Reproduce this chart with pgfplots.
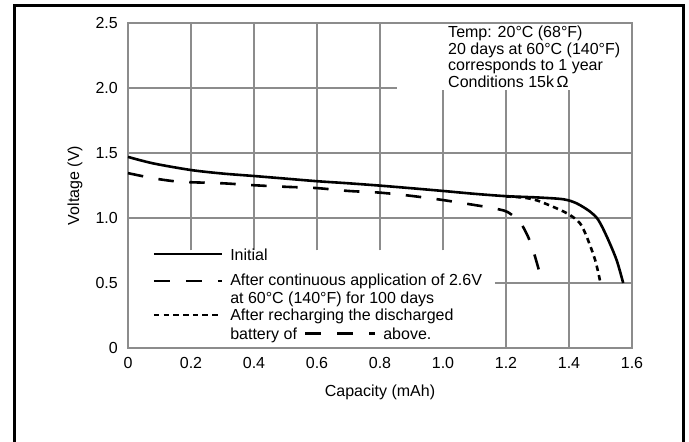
\documentclass[border=0pt]{standalone}
\usepackage{fontspec}
\setmainfont{Liberation Sans}
\usepackage{pgfplots}
\pgfplotsset{compat=1.18}
\definecolor{gridc}{RGB}{140,140,140}
\begin{document}
\fontsize{16}{19}\selectfont
\begin{tikzpicture}[x=1pt,y=1pt]
\useasboundingbox (0,0) rectangle (689,442);
\draw[line width=3pt] (14,-10) -- (14,436) -- (683,436) -- (683,-10);
\begin{axis}[
  at={(128pt,94pt)}, anchor=south west,
  scale only axis, width=504pt, height=325pt,
  xmin=0, xmax=1.6, ymin=0, ymax=2.5,
  xtick={0,0.2,0.4,0.6,0.8,1.0,1.2,1.4,1.6},
  xticklabels={0,0.2,0.4,0.6,0.8,1.0,1.2,1.4,1.6},
  ytick={0,0.5,1,1.5,2,2.5},
  yticklabels={0,0.5,1.0,1.5,2.0,2.5},
  /pgf/number format/assume math mode=true,
  major tick length=0pt, tick style={draw=none},
  axis line style={gridc, line width=2.5pt},
  yticklabel style={anchor=east, inner sep=0pt, xshift=-10pt},
  xticklabel style={anchor=north, inner sep=0pt, yshift=-9pt},
  xlabel={Capacity (mAh)}, ylabel={Voltage (V)},
  xlabel style={at={(axis description cs:0.5,-0.1354)}, anchor=center},
  ylabel style={at={(axis description cs:-0.1052,0.5)}, anchor=center},
  clip=false,
]
% partial grid
\addplot[gridc, line width=2.5pt, forget plot] coordinates {(0.2,0.75) (0.2,2.5)};
\addplot[gridc, line width=2.5pt, forget plot] coordinates {(0.4,0.75) (0.4,2.5)};
\addplot[gridc, line width=2.5pt, forget plot] coordinates {(0.6,0.75) (0.6,2.5)};
\addplot[gridc, line width=2.5pt, forget plot] coordinates {(0.8,0.75) (0.8,2.5)};
\addplot[gridc, line width=2.5pt, forget plot] coordinates {(1.0,0.75) (1.0,1.985)};
\addplot[gridc, line width=2.5pt, forget plot] coordinates {(1.2,0) (1.2,1.985)};
\addplot[gridc, line width=2.5pt, forget plot] coordinates {(1.4,0) (1.4,1.985)};
\addplot[gridc, line width=2.5pt, forget plot] coordinates {(0,2.0) (0.854,2.0)};
\addplot[gridc, line width=2.5pt, forget plot] coordinates {(0,1.5) (1.6,1.5)};
\addplot[gridc, line width=2.5pt, forget plot] coordinates {(0,1.0) (1.6,1.0)};
\addplot[gridc, line width=2.5pt, forget plot] coordinates {(1.165,0.5) (1.6,0.5)};
% Initial
\addplot[black, line width=2.6pt, smooth, tension=0.5] coordinates {
(0,1.47) (0.08,1.42) (0.2,1.369) (0.3,1.342) (0.4,1.323) (0.5,1.303) (0.6,1.283)
(0.7,1.267) (0.8,1.249) (0.9,1.229) (1.0,1.208) (1.1,1.186) (1.2,1.168) (1.3,1.158)
(1.382,1.144) (1.424,1.113) (1.467,1.049) (1.493,0.985) (1.52,0.857) (1.551,0.677) (1.572,0.5)};
% After continuous application
\addplot[black, line width=2.6pt, dash pattern=on 15.5pt off 15.5pt, smooth, tension=0.5] coordinates {
(0,1.345) (0.05,1.32) (0.1,1.298) (0.15,1.282) (0.2,1.275) (0.3,1.267) (0.4,1.252)
(0.5,1.24) (0.6,1.23) (0.7,1.208) (0.8,1.195) (0.9,1.17) (1.0,1.138) (1.1,1.10)
(1.15,1.08) (1.18,1.065) (1.206,1.045) (1.244,0.97) (1.27,0.856) (1.286,0.754) (1.316,0.5)};
% After recharging
\addplot[black, line width=2.6pt, dash pattern=on 5.5pt off 4.2pt, smooth, tension=0.5] coordinates {
(1.2,1.166) (1.25,1.158) (1.28,1.147) (1.308,1.127) (1.361,1.074) (1.403,1.023)
(1.435,0.959) (1.456,0.857) (1.483,0.677) (1.50,0.5)};
% legend samples
\addplot[black, line width=2.6pt] coordinates {(0.0825,0.723) (0.298,0.723)};
\addplot[black, line width=2.6pt, dash pattern=on 16pt off 16pt] coordinates {(0.0825,0.515) (0.298,0.515)};
\addplot[black, line width=2.6pt, dash pattern=on 5.5pt off 4.2pt] coordinates {(0.0825,0.254) (0.298,0.254)};
\addplot[black, line width=2.6pt, dash pattern=on 16pt off 16pt] coordinates {(0.562,0.113) (0.784,0.113)};
\node[anchor=base west, inner sep=0pt] at (axis cs:0.324,0.672) {Initial};
\node[anchor=base west, inner sep=0pt] at (axis cs:0.324,0.479) {After continuous application of 2.6V};
\node[anchor=base west, inner sep=0pt] at (axis cs:0.324,0.344) {at 60°C (140°F) for 100 days};
\node[anchor=base west, inner sep=0pt] at (axis cs:0.324,0.215) {After recharging the discharged};
\node[anchor=base west, inner sep=0pt] at (axis cs:0.324,0.069) {battery of};
\node[anchor=base west, inner sep=0pt] at (axis cs:0.81,0.069) {above.};
% note
\node[anchor=base west, inner sep=0pt] at (axis cs:1.016,2.385) {Temp: 20°C (68°F)};
\node[anchor=base west, inner sep=0pt] at (axis cs:1.016,2.258) {20 days at 60°C (140°F)};
\node[anchor=base west, inner sep=0pt] at (axis cs:1.016,2.131) {corresponds to 1 year};
\node[anchor=base west, inner sep=0pt] at (axis cs:1.016,2.004) {Conditions 15k\,Ω};
\end{axis}
\end{tikzpicture}
\end{document}
